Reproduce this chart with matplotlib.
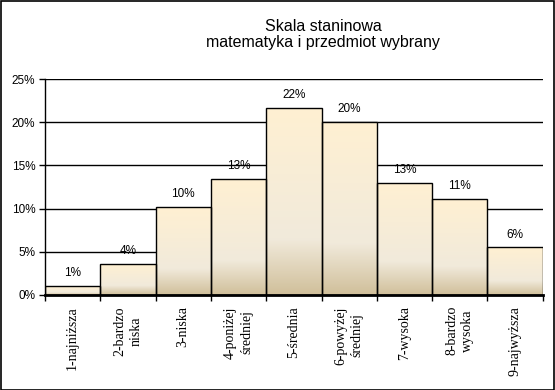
import numpy as np
import matplotlib
matplotlib.use("Agg")
import matplotlib.pyplot as plt
from matplotlib.colors import LinearSegmentedColormap
from matplotlib.patches import Rectangle

categories = ["1-najniższa", "2-bardzo\nniska", "3-niska", "4-poniżej\nśredniej", "5-średnia",
              "6-powyżej\nśredniej", "7-wysoka", "8-bardzo\nwysoka", "9-najwyższa"]
values = [1.0, 3.6, 10.15, 13.4, 21.6, 20.0, 13.0, 11.1, 5.5]
yticks = [0, 5, 10, 15, 20, 25]

fig = plt.figure(figsize=(5.55, 3.9), dpi=100)
ax = fig.add_axes([0.081, 0.2436, 0.897, 0.5538])

# gradient fill: cream at top, tan at bottom
cmap = LinearSegmentedColormap.from_list(
    "cream", [(0.0, "#d0bf9a"), (0.3, "#f1eadb"), (1.0, "#fff0d2")])
grad = np.linspace(0, 1, 256).reshape(-1, 1)

x = np.arange(len(values))
bars = ax.bar(x, values, width=1.0, facecolor="none", edgecolor="black",
              linewidth=1.0, zorder=3)
for b in bars:
    x0, w, h = b.get_x(), b.get_width(), b.get_height()
    im = ax.imshow(grad, cmap=cmap, origin="lower", aspect="auto",
                   extent=(x0, x0 + w, 0, h), zorder=2)
    im.set_clip_path(b)

for xi, v in zip(x, values):
    ax.annotate(f"{v:.0f}%", (xi, v), xytext=(0, 5), textcoords="offset points",
                ha="center", va="bottom", fontsize=8.5, family="Liberation Sans")

ax.set_xlim(-0.5, len(values) - 0.5)
ax.set_ylim(0, 25)
ax.set_yticks(yticks)
ax.set_yticklabels([f"{t}%" for t in yticks], family="Liberation Sans", fontsize=8.5)
ax.yaxis.grid(True, color="black", linewidth=1.0)
ax.set_axisbelow(True)

ax.set_xticks(np.arange(len(values) + 1) - 0.5)
ax.set_xticklabels([])
ax.set_xticks(x, minor=True)
ax.set_xticklabels(categories, minor=True, rotation=90, family="Liberation Serif",
                   fontsize=10, va="top", ha="center", linespacing=1.3)
ax.tick_params(axis="x", which="minor", length=0, pad=8)
ax.tick_params(axis="x", which="major", length=4, width=1, direction="out")
ax.tick_params(axis="y", length=4, width=1, direction="out", pad=3)

for s in ["top", "right"]:
    ax.spines[s].set_visible(False)
ax.spines["left"].set_linewidth(1.0)
ax.spines["bottom"].set_linewidth(2.0)

fig.text(0.582, 0.912, "Skala staninowa\nmatematyka i przedmiot wybrany", ha="center", va="center",
         fontsize=11.5, family="Liberation Sans", linespacing=1.1)

fig.patches.append(Rectangle((0.001, 0.001), 0.997, 0.996, transform=fig.transFigure,
                             fill=False, edgecolor="black", linewidth=1.2))

fig.savefig("out.png", dpi=100)
